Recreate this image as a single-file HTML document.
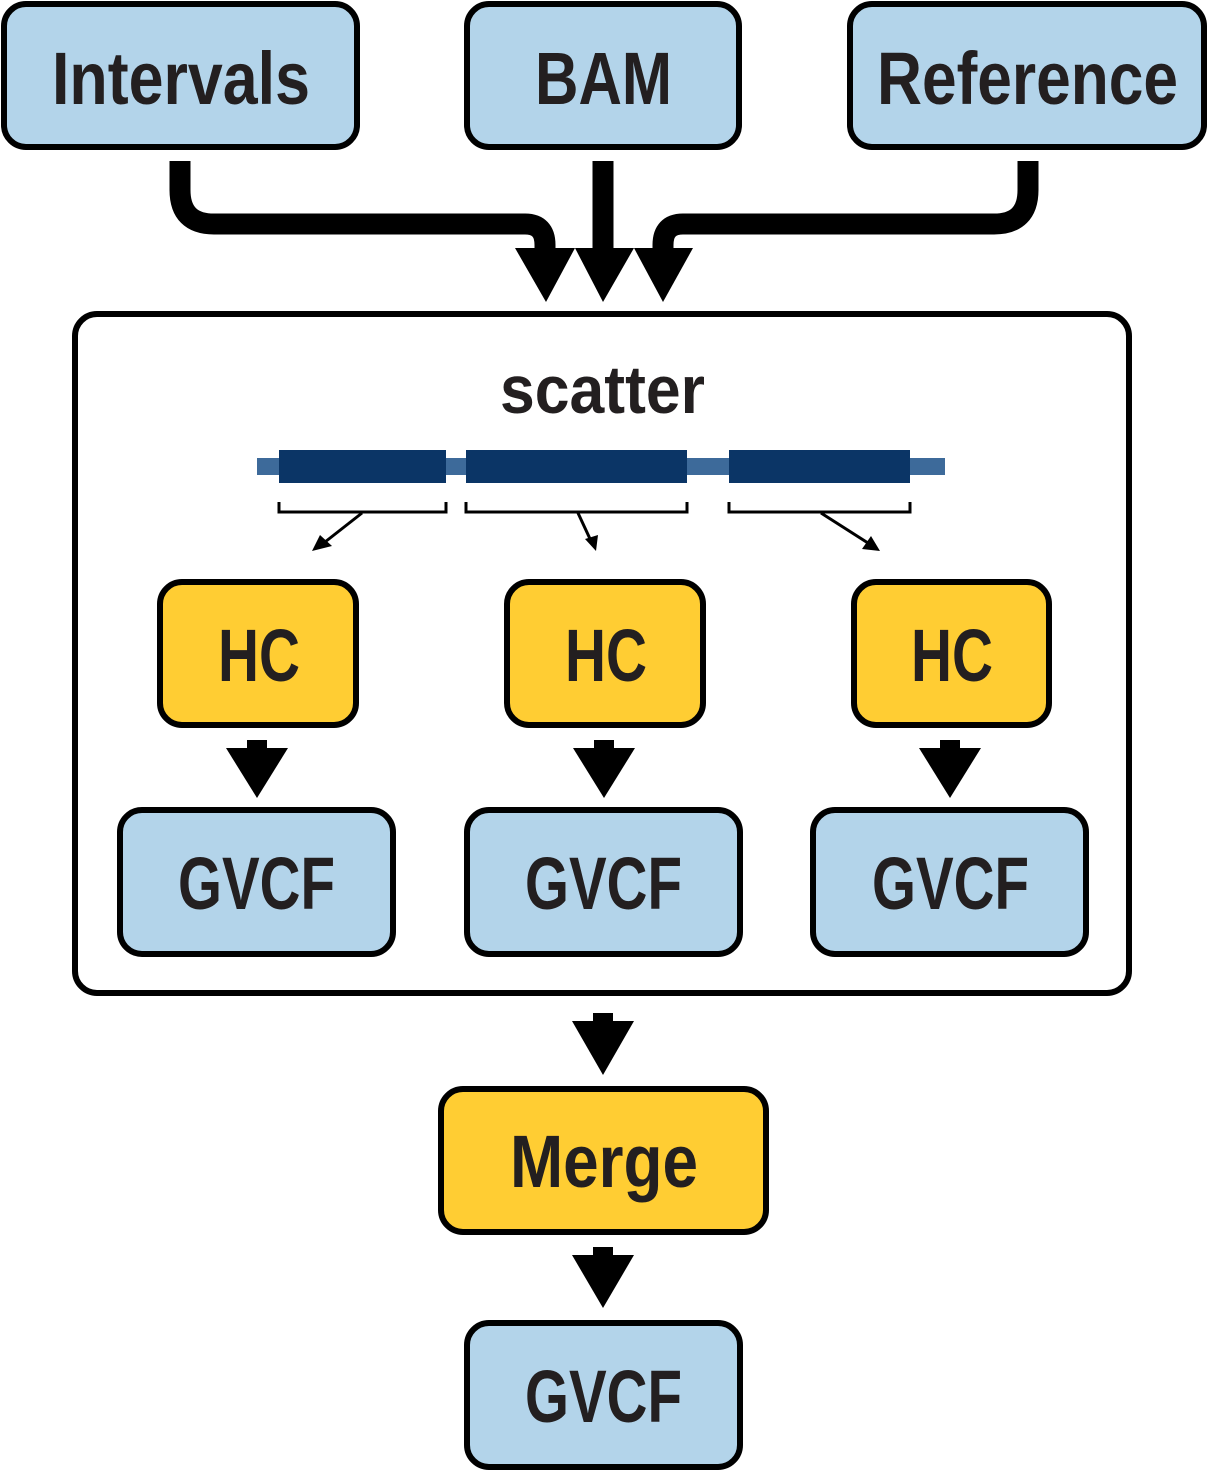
<!DOCTYPE html>
<html><head><style>
html,body{margin:0;padding:0;background:#fff}
svg{display:block}
text{font-family:"Liberation Sans",sans-serif;font-weight:bold;fill:#231f20}
</style></head><body>
<svg width="1208" height="1471" viewBox="0 0 1208 1471" xmlns="http://www.w3.org/2000/svg">
<g stroke="#000" stroke-width="6">
<rect x="4" y="4" width="353" height="143" rx="22" fill="#b3d4ea"/>
<rect x="467" y="4" width="272" height="143" rx="22" fill="#b3d4ea"/>
<rect x="850" y="4" width="354" height="143" rx="22" fill="#b3d4ea"/>
<rect x="75" y="314" width="1054" height="679" rx="22" fill="#fff"/>
<rect x="160" y="582" width="196" height="143" rx="22" fill="#ffcd33"/>
<rect x="507" y="582" width="196" height="143" rx="22" fill="#ffcd33"/>
<rect x="854" y="582" width="195" height="143" rx="22" fill="#ffcd33"/>
<rect x="120" y="810" width="273" height="144" rx="22" fill="#b3d4ea"/>
<rect x="467" y="810" width="273" height="144" rx="22" fill="#b3d4ea"/>
<rect x="813" y="810" width="273" height="144" rx="22" fill="#b3d4ea"/>
<rect x="441" y="1089" width="325" height="143" rx="22" fill="#ffcd33"/>
<rect x="467" y="1323" width="273" height="144" rx="22" fill="#b3d4ea"/>
</g>
<g fill="none" stroke="#000" stroke-width="21">
<path d="M180 161 V190 Q180 224 214 224 H525 Q545 224 545 245 V252"/>
<path d="M603 161 V252"/>
<path d="M1028 161 V190 Q1028 224 994 224 H683 Q663 224 663 245 V252"/>
</g>
<g fill="#000">
<polygon points="515,248 575,248 546,302"/>
<polygon points="575,248 634,248 603,302"/>
<polygon points="634,248 693,248 663,302"/>
</g>
<rect x="257" y="458" width="688" height="17" fill="#3d6a9a"/>
<rect x="279" y="450" width="167" height="33" fill="#0b3566"/>
<rect x="466" y="450" width="221" height="33" fill="#0b3566"/>
<rect x="729" y="450" width="181" height="33" fill="#0b3566"/>
<g fill="none" stroke="#000" stroke-width="3">
<path d="M279 502 V512 H446 V502"/>
<path d="M466 502 V512 H687 V502"/>
<path d="M729 502 V512 H910 V502"/>
<line x1="362" y1="513" x2="325" y2="542"/>
<line x1="578" y1="513" x2="591" y2="541"/>
<line x1="821" y1="513" x2="868" y2="543"/>
</g>
<g fill="#000">
<polygon points="312,551 320,535 332,546"/>
<polygon points="596,551 585,539 598,535"/>
<polygon points="880,551 862,549 871,536"/>
</g>
<g fill="#000">
<rect x="247" y="740" width="20" height="10"/><polygon points="226,748 288,748 257,798"/>
<rect x="594" y="740" width="20" height="10"/><polygon points="573,748 635,748 604,798"/>
<rect x="940" y="740" width="20" height="10"/><polygon points="919,748 981,748 950,798"/>
<rect x="593" y="1013" width="20" height="10"/><polygon points="572,1021 634,1021 603,1075"/>
<rect x="593" y="1247" width="20" height="10"/><polygon points="572,1255 634,1255 603,1308"/>
</g>
<g font-size="74" lengthAdjust="spacingAndGlyphs">
<text x="52" y="104" textLength="258" lengthAdjust="spacingAndGlyphs">Intervals</text>
<text x="535" y="104" textLength="137" lengthAdjust="spacingAndGlyphs">BAM</text>
<text x="877" y="104" textLength="301" lengthAdjust="spacingAndGlyphs">Reference</text>
<text x="218" y="681" textLength="82" lengthAdjust="spacingAndGlyphs">HC</text>
<text x="565" y="681" textLength="82" lengthAdjust="spacingAndGlyphs">HC</text>
<text x="911" y="681" textLength="82" lengthAdjust="spacingAndGlyphs">HC</text>
<text x="178" y="909" textLength="157" lengthAdjust="spacingAndGlyphs">GVCF</text>
<text x="525" y="909" textLength="157" lengthAdjust="spacingAndGlyphs">GVCF</text>
<text x="872" y="909" textLength="157" lengthAdjust="spacingAndGlyphs">GVCF</text>
<text x="510" y="1187" textLength="188" lengthAdjust="spacingAndGlyphs">Merge</text>
<text x="525" y="1422" textLength="157" lengthAdjust="spacingAndGlyphs">GVCF</text>
<text x="500" y="413" font-size="68" textLength="205" lengthAdjust="spacingAndGlyphs">scatter</text>
</g>
</svg>
</body></html>
